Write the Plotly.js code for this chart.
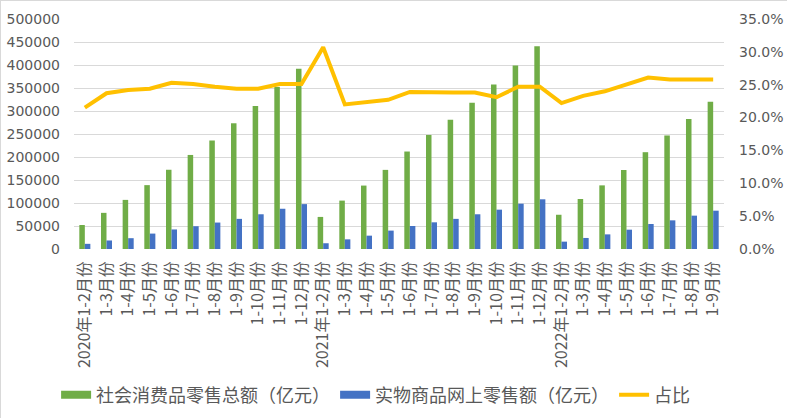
<!DOCTYPE html>
<html>
<head>
<meta charset="utf-8">
<script src="https://cdn.plot.ly/plotly-3.0.1.min.js"></script>
<style>
html,body{margin:0;padding:0;background:#fff;}
#chart{width:787px;height:418px;box-sizing:border-box;border:1px solid #d9d9d9;}
</style>
</head>
<body>
<div id="chart"></div>
<script>
const categories = [
  "2020年1-2月份","1-3月份","1-4月份","1-5月份","1-6月份","1-7月份","1-8月份","1-9月份","1-10月份","1-11月份","1-12月份",
  "2021年1-2月份","1-3月份","1-4月份","1-5月份","1-6月份","1-7月份","1-8月份","1-9月份","1-10月份","1-11月份","1-12月份",
  "2022年1-2月份","1-3月份","1-4月份","1-5月份","1-6月份","1-7月份","1-8月份","1-9月份"
];
const retailTotal = [
  52130, 78580, 106758, 138854, 172256, 204459, 235867, 273324, 311089, 352000, 391981,
  69737, 105221, 137900, 172000, 211904, 247928, 281000, 318057, 357500, 399000, 440823,
  74426, 108659, 138318, 171689, 210432, 246800, 282700, 320305
];
const onlinePhysical = [
  11233, 18536, 23500, 33500, 42500, 49500, 57500, 65500, 75500, 87500, 97590,
  12500, 21000, 29000, 40000, 50000, 58000, 65500, 75500, 85500, 98500, 108042,
  16000, 24000, 31800, 42000, 54300, 62300, 72500, 83300
];
const share = [
  0.215, 0.237, 0.242, 0.244, 0.253, 0.251, 0.247, 0.244, 0.244, 0.251, 0.251,
  0.307, 0.220, 0.223, 0.227, 0.239, 0.238, 0.238, 0.238, 0.231, 0.247, 0.247,
  0.222, 0.233, 0.240, 0.251, 0.261, 0.258, 0.258, 0.258
];
const seriesNames = ["社会消费品零售总额（亿元）","实物商品网上零售额（亿元）","占比"];
const seriesColors = ['#70AD47', '#4472C4', '#FFC000'];

const idx = categories.map((_, i) => i);
const cjkFont = '"Noto Sans CJK SC", "Noto Sans", sans-serif';
const numFont = '"DejaVu Sans", sans-serif';
const txtColor = '#595959';

const traces = [
  {type:'bar', x: idx, y: retailTotal, name: seriesNames[0], marker:{color:seriesColors[0]}, showlegend:false},
  {type:'bar', x: idx, y: onlinePhysical, name: seriesNames[1], marker:{color:seriesColors[1]}, showlegend:false},
  {type:'scatter', mode:'lines', x: idx, y: share, name: seriesNames[2], yaxis:'y2',
   line:{color:seriesColors[2], width:4}, showlegend:false},
  // legend entries (no data)
  {type:'scatter', mode:'lines', x:[null], y:[null], name: seriesNames[0], line:{color:seriesColors[0], width:8}},
  {type:'scatter', mode:'lines', x:[null], y:[null], name: seriesNames[1], line:{color:seriesColors[1], width:8}},
  {type:'scatter', mode:'lines', x:[null], y:[null], name: seriesNames[2], line:{color:seriesColors[2], width:4}}
];

const layout = {
  width: 787, height: 418,
  margin: {l:73, r:64, t:18, b:170, pad:0, autoexpand:false},
  paper_bgcolor:'#ffffff', plot_bgcolor:'#ffffff',
  font: {family: cjkFont, color: txtColor, size: 13},
  barmode:'group', bargap:0.49, bargroupgap:0,
  showlegend:true,
  legend: {orientation:'h', x:0.464, xanchor:'center', y:-0.635, yanchor:'middle',
           font:{size:18, color:txtColor, family:cjkFont}, traceorder:'normal',
           tracegroupgap:0, itemwidth:30},
  xaxis: {
    range:[-0.5, categories.length - 0.5],
    tickmode:'array', tickvals: idx, ticktext: categories,
    tickangle:-90, showgrid:false, zeroline:false, showline:false, ticks:'',
    tickfont:{size:16, color:txtColor, family:cjkFont}, automargin:false, ticklabelstandoff:8
  },
  yaxis: {
    range:[0, 500000], dtick:50000, tickformat:'d',
    showgrid:true, gridcolor:'#d9d9d9', gridwidth:1, zeroline:false, showline:false,
    tickfont:{size:14, color:txtColor, family:numFont}, automargin:false, ticklabelstandoff:13
  },
  yaxis2: {
    overlaying:'y', side:'right', range:[0, 0.35], dtick:0.05, tickformat:'.1%',
    showgrid:false, zeroline:false, showline:false,
    tickfont:{size:14, color:txtColor, family:numFont}, automargin:false, ticklabelstandoff:14
  }
};

Plotly.newPlot('chart', traces, layout, {displayModeBar:false, staticPlot:true});
</script>
</body>
</html>
